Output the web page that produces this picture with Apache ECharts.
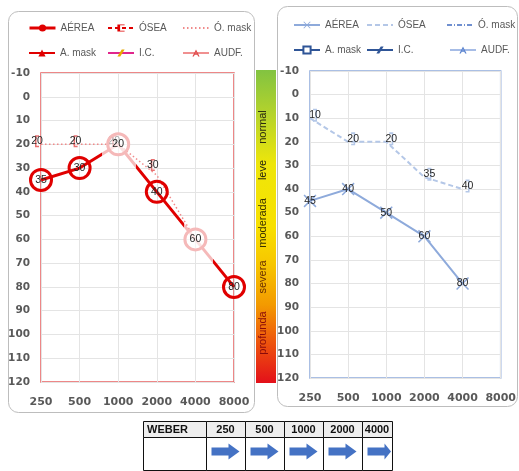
<!DOCTYPE html>
<html><head><meta charset="utf-8">
<script src="https://cdn.jsdelivr.net/npm/echarts@6/dist/echarts.min.js"></script>
<style>html,body{margin:0;padding:0;background:#fff}#c{width:519px;height:471px}</style>
</head><body><div id="c"></div><script>
// ---------- data ----------
const categories = ['250','500','1000','2000','4000','8000'];
const leftAerea  = [35, 30, 20, 40, 60, 80];
const leftOsea   = [20, 20, 20, 30, null, null];
const leftOMask  = [20, 20, 20, 33, 60, null];
const rightAerea = [45, 40, 50, 60, 80, null];
const rightOsea  = [10, 20, 20, 35, 40, null];
const yMin = -10, yMax = 120, yStep = 10;
const legendNames = ['AÉREA','ÓSEA','Ó. mask','A. mask','I.C.','AUDF.'];
const severityLabels = ['normal','leve','moderada','severa','profunda'];
const weberHeader = 'WEBER';
const weberFreqs = ['250','500','1000','2000','4000'];
const weberDir = ['right','right','right','right','right'];

// ---------- styles ----------
const RED = '#e00000', PINK = '#f5b9b9', LBLUE = '#8eaadb', LBLUE2 = '#b4c7e7';
const pinkPoints = [2, 4];
const FONT = 'DejaVu Sans';
const X_PATH = 'path://M0,1 L1,0 L6,5 L11,0 L12,1 L7,6 L12,11 L11,12 L6,7 L1,12 L0,11 L5,6 Z';
const LBRACKET = 'path://M0,0 H4 V1.5 H1.5 V10.5 H4 V12 H0 Z';
const RBRACKET = 'path://M0,0 H4 V12 H0 V10.5 H2.5 V1.5 H0 Z';
const A_PATH = 'path://M5,0 L10,12 L8,12 L6.8,9 L3.2,9 L2,12 L0,12 Z M4,7 L6,7 L5,4 Z';
const BAR_PATH = 'path://M3,0 H5 L2,12 H0 Z';

const chart = echarts.init(document.getElementById('c'), null, {renderer:'canvas'});

const redGrad = new echarts.graphic.LinearGradient(0, 0, 1, 0, [
  {offset:0, color:RED},{offset:1.6/5, color:RED},{offset:1.6/5, color:PINK},
  {offset:2.45/5, color:PINK},{offset:2.45/5, color:RED},{offset:3.67/5, color:RED},
  {offset:3.67/5, color:PINK},{offset:4.4/5, color:PINK},{offset:4.4/5, color:RED},{offset:1, color:RED}
]);

function yAxis(gi){
  return {type:'value', gridIndex:gi, min:yMin, max:yMax, interval:yStep, inverse:true,
    axisLine:{show:false}, axisTick:{show:false},
    splitLine:{lineStyle:{color:'#e4e4e4'}},
    axisLabel:{fontFamily:FONT, fontWeight:'bold', fontSize:10.5, color:'#595959', margin:11}};
}
function xAxis(gi){
  return {type:'category', gridIndex:gi, data:categories, boundaryGap:false,
    axisLine:{show:false}, axisTick:{show:false},
    splitLine:{show:true, interval:0, lineStyle:{color:'#e4e4e4'}},
    axisLabel:{interval:0, fontFamily:FONT, fontWeight:'bold', fontSize:11, color:'#595959', margin:15}};
}
const lbl = {show:true, position:'inside', fontSize:10.5, color:'#262626', fontFamily:'Liberation Sans'};

const series = [
  {name:'Ó. mask', type:'line', xAxisIndex:0, yAxisIndex:0, data:leftOMask, symbol:'none',
   itemStyle:{color:'#f08a8a'}, lineStyle:{color:'#f08a8a', width:1.5, type:[1.5,2.5]}, z:2},
  {name:'ÓSEA', type:'line', xAxisIndex:0, yAxisIndex:0, data:leftOsea, symbol:LBRACKET,
   symbolSize:[4,12], symbolOffset:[-4,-3], itemStyle:{color:'#e87070'},
   lineStyle:{opacity:0, color:RED}, label:lbl, z:3},
  {name:'AÉREA', type:'line', xAxisIndex:0, yAxisIndex:0,
   data:leftAerea.map((v,i)=>pinkPoints.includes(i)?{value:v,itemStyle:{borderColor:PINK,color:'rgba(255,255,255,0.6)'}}:{value:v}),
   symbol:'circle', symbolSize:21,
   itemStyle:{color:'rgba(255,255,255,0)', borderColor:RED, borderWidth:3},
   lineStyle:{width:3, color:redGrad}, label:lbl, z:5},
  {name:'A. mask', type:'line', xAxisIndex:0, yAxisIndex:0, data:[], symbol:'triangle',
   itemStyle:{color:RED}, lineStyle:{color:RED, width:2.5}},
  {name:'I.C.', type:'line', xAxisIndex:0, yAxisIndex:0, data:[], symbol:BAR_PATH,
   itemStyle:{color:'#e8a800'}, lineStyle:{color:'#e0268c', width:2.5}},
  {name:'AUDF.', type:'line', xAxisIndex:0, yAxisIndex:0, data:[], symbol:A_PATH,
   itemStyle:{color:'#e04848'}, lineStyle:{color:'#f09090', width:2}},

  {name:'ÓSEA_R', type:'line', xAxisIndex:1, yAxisIndex:1, data:rightOsea, symbol:RBRACKET,
   symbolSize:[4,13], symbolOffset:[5,-3], itemStyle:{color:LBLUE2},
   lineStyle:{color:LBLUE2, width:2, type:[5,3]}, label:lbl, z:3},
  {name:'AÉREA_R', type:'line', xAxisIndex:1, yAxisIndex:1, data:rightAerea, symbol:X_PATH,
   symbolSize:13, itemStyle:{color:LBLUE}, lineStyle:{color:LBLUE, width:2}, label:lbl, z:4},
  {name:'Ó. mask_R', type:'line', xAxisIndex:1, yAxisIndex:1, data:[], symbol:'none',
   itemStyle:{color:'#7090d0'}, lineStyle:{color:'#7090d0', width:1.5, type:[5,2,1,2]}},
  {name:'A. mask_R', type:'line', xAxisIndex:1, yAxisIndex:1, data:[], symbol:'rect',
   itemStyle:{color:'#fff', borderColor:'#2f5597', borderWidth:1.5}, lineStyle:{color:'#2f5597', width:2.5}},
  {name:'I.C._R', type:'line', xAxisIndex:1, yAxisIndex:1, data:[], symbol:BAR_PATH,
   itemStyle:{color:'#2f5597'}, lineStyle:{color:'#2f5597', width:2}},
  {name:'AUDF._R', type:'line', xAxisIndex:1, yAxisIndex:1, data:[], symbol:A_PATH,
   itemStyle:{color:'#5b84cf'}, lineStyle:{color:'#a6bce6', width:1.5}}
];

const hidden = {color:'rgba(0,0,0,0)', borderWidth:0, borderColor:'rgba(0,0,0,0)'};
const legendOverrides = {
  'AÉREA': {itemStyle:{color:RED, borderWidth:0}, lineStyle:{color:RED, width:3}},
  'ÓSEA': {itemStyle:{color:RED}, lineStyle:{opacity:1, color:RED, width:2, type:[4,3]}},
  'Ó. mask': {itemStyle:hidden},
  'ÓSEA_R': {itemStyle:hidden},
  'Ó. mask_R': {itemStyle:hidden}
};
const legendPos = [
  {x:28, y:23},{x:107, y:23},{x:182, y:23},
  {x:28, y:48},{x:107, y:48},{x:182, y:48}
];
const legendPosR = [
  {x:293, y:20},{x:366, y:20},{x:446, y:20},
  {x:293, y:45},{x:366, y:45},{x:449, y:45}
];
const legends = [];
legendNames.forEach((n,i)=>{
  const l = Object.assign({name:n}, legendOverrides[n]||{});
  legends.push({data:[l], left:legendPos[i].x, top:legendPos[i].y});
  const r = Object.assign({name:n+'_R'}, legendOverrides[n+'_R']||{});
  legends.push({data:[r], left:legendPosR[i].x, top:legendPosR[i].y});
});
legends.forEach(l=>Object.assign(l,{padding:0, itemWidth:26, itemHeight:9, selectedMode:false,
  formatter:n=>n.replace('_R',''), textStyle:{fontSize:10, color:'#595959', fontFamily:'Liberation Sans'}}));

// ---------- decorative graphics ----------
const graphics = [
  {type:'rect', shape:{x:8.5, y:11.5, width:246, height:401, r:10}, style:{fill:'none', stroke:'#bdbdbd', lineWidth:1}, z:-10},
  {type:'rect', shape:{x:277.5, y:6.5, width:240, height:400, r:10}, style:{fill:'none', stroke:'#bdbdbd', lineWidth:1}, z:-10},
  {type:'rect', shape:{x:256, y:70, width:20, height:313},
   style:{fill:new echarts.graphic.LinearGradient(0,0,0,1,[
     {offset:0, color:'#82c341'},{offset:0.15, color:'#b8d42a'},{offset:0.3, color:'#eee60a'},
     {offset:0.5, color:'#f8e000'},{offset:0.62, color:'#f7c600'},{offset:0.75, color:'#f39a00'},
     {offset:0.86, color:'#ee5a0c'},{offset:1, color:'#e3101a'}])}}
];
const sevY = [127, 170, 223, 277, 333];
const sevCol = ['#2a2a10','#1a1a10','#3a3000','#6a3000','#8a0a0a'];
severityLabels.forEach((t,i)=>graphics.push({type:'text', x:263, y:sevY[i], rotation:Math.PI/2,
  style:{text:t, fill:sevCol[i], font:'11px "Liberation Sans"', align:'center', verticalAlign:'middle'}}));

// Weber table
const colX = [143, 206, 245, 284, 323, 362, 392];
const rowY = [421, 437, 470];
for (let c=0;c<colX.length-1;c++){
  graphics.push({type:'rect', shape:{x:colX[c]+0.5, y:rowY[0]+0.5, width:colX[c+1]-colX[c], height:rowY[1]-rowY[0]},
    style:{fill:'#eeeeee', stroke:'#111', lineWidth:1}});
  graphics.push({type:'rect', shape:{x:colX[c]+0.5, y:rowY[1]+0.5, width:colX[c+1]-colX[c], height:rowY[2]-rowY[1]},
    style:{fill:'#fff', stroke:'#111', lineWidth:1}});
  const txt = c===0 ? weberHeader : weberFreqs[c-1];
  graphics.push({type:'text', x: c===0 ? colX[0]+4 : (colX[c]+colX[c+1])/2, y:(rowY[0]+rowY[1])/2+1,
    style:{text:txt, fill:'#111', font:'bold 11px "Liberation Sans"', align: c===0?'left':'center', verticalAlign:'middle'}});
  if (c>0 && weberDir[c-1]==='right'){
    const cx = colX[c] + 19.5, cy = 451.5, lim = colX[colX.length-1]-1;
    const pts = [[-14,-4],[3,-4],[3,-8],[14,0],[3,8],[3,4],[-14,4]].map(p=>[Math.min(cx+p[0],lim), cy+p[1]]);
    graphics.push({type:'polygon', shape:{points:pts}, style:{fill:'#4472c4'}});
  }
}

chart.setOption({
  animation:false,
  backgroundColor:'#fff',
  grid:[
    {left:41, top:73, width:193, height:309, show:true, borderColor:'#e86060', borderWidth:1.5, backgroundColor:'transparent'},
    {left:310, top:71, width:192, height:307, show:true, borderColor:'#8eaadb', borderWidth:1.5, backgroundColor:'transparent'}
  ],
  xAxis:[xAxis(0), xAxis(1)],
  yAxis:[yAxis(0), yAxis(1)],
  legend:legends,
  series:series,
  graphic:graphics
});
</script></body></html>
